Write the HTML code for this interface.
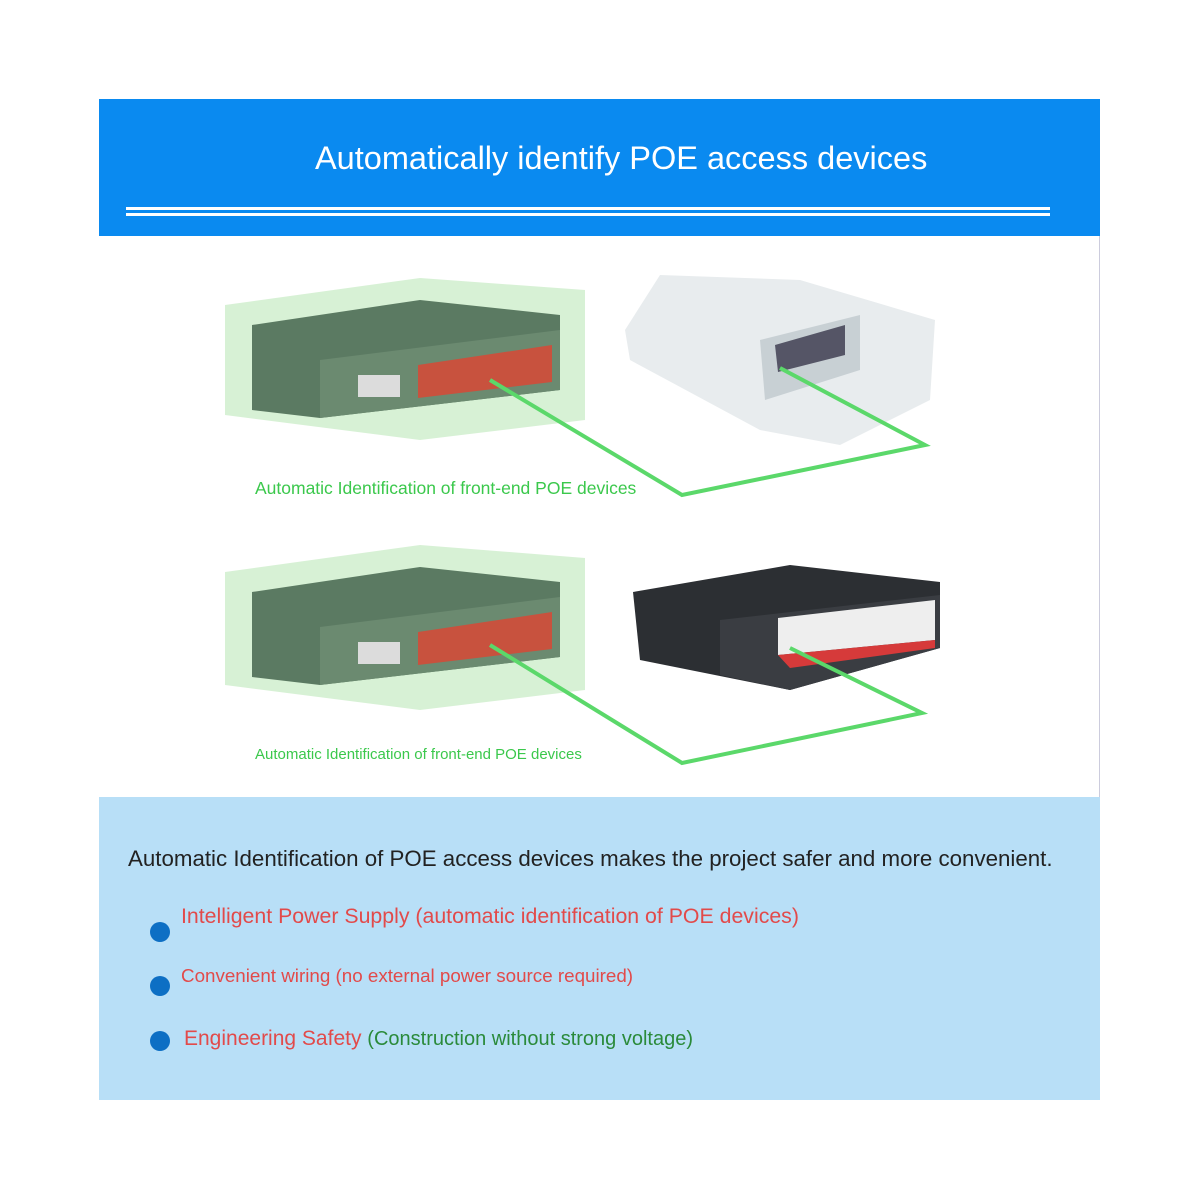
<!DOCTYPE html>
<html><head><style>
body{margin:0;width:1200px;height:1200px;background:#fff;position:relative;overflow:hidden;font-family:"Liberation Sans",sans-serif}
.a{position:absolute;white-space:nowrap}
</style></head><body>
<div class="a" style="left:99px;top:99px;width:1001px;height:137px;background:#0a8af0"></div>
<div class="a" style="left:315px;top:140px;color:#fff;font-size:32.5px">Automatically identify POE access devices</div>
<div class="a" style="left:126px;top:207px;width:924px;height:3px;background:#fff"></div>
<div class="a" style="left:126px;top:213px;width:924px;height:3px;background:#fff"></div>
<div class="a" style="left:1099px;top:236px;width:1px;height:562px;background:#ccd"></div>
<div class="a" style="left:99px;top:797px;width:1001px;height:303px;background:#b8dff7"></div>

<svg class="a" style="left:0;top:0" width="1200" height="1200">
<polygon points="225,305 420,278 585,290 585,420 420,440 225,415" fill="#cdeecb" opacity="0.8"/>
<polygon points="252,325 420,300 560,315 560,390 320,418 252,410" fill="#5b7a62"/>
<polygon points="320,360 560,330 560,390 320,418" fill="#6b8a70"/>
<polygon points="418,365 552,345 552,382 418,398" fill="#c8523e"/>
<rect x="358" y="375" width="42" height="22" fill="#dcdcdc"/>
<polygon points="625,330 660,275 800,280 935,320 930,400 840,445 760,430 630,360" fill="#e8ecee"/>
<polygon points="760,340 860,315 860,370 765,400" fill="#c8d0d4"/>
<polygon points="775,345 845,325 845,355 778,372" fill="#556"/>
<polyline points="490,380 682,495 925,445 780,368" fill="none" stroke="#5bd86a" stroke-width="4"/>
<polygon points="225,572 420,545 585,558 585,690 420,710 225,685" fill="#cdeecb" opacity="0.8"/>
<polygon points="252,592 420,567 560,582 560,657 320,685 252,677" fill="#5b7a62"/>
<polygon points="320,627 560,597 560,657 320,685" fill="#6b8a70"/>
<polygon points="418,632 552,612 552,649 418,665" fill="#c8523e"/>
<rect x="358" y="642" width="42" height="22" fill="#dcdcdc"/>
<polygon points="633,592 790,565 940,582 940,648 790,690 640,660" fill="#2c2f33"/>
<polygon points="720,620 940,595 940,648 790,690 720,675" fill="#3a3d42"/>
<polygon points="778,618 935,600 935,640 778,655" fill="#eee"/>
<polygon points="778,655 935,640 935,648 790,668" fill="#d63a3a"/>
<polyline points="490,645 682,763 922,713 790,648" fill="none" stroke="#5bd86a" stroke-width="4"/>
<circle cx="160" cy="932" r="10" fill="#0d6fc4"/>
<circle cx="160" cy="986" r="10" fill="#0d6fc4"/>
<circle cx="160" cy="1041" r="10" fill="#0d6fc4"/>
</svg>
<div class="a" style="left:255px;top:478px;color:#3bc84c;font-size:17.5px">Automatic Identification of front-end POE devices</div>
<div class="a" style="left:255px;top:746px;color:#3bc84c;font-size:15px">Automatic Identification of front-end POE devices</div>
<div class="a" style="left:128px;top:846px;color:#222;font-size:22.3px">Automatic Identification of POE access devices makes the project safer and more convenient.</div>
<div class="a" style="left:181px;top:904px;color:#e24a4a;font-size:21.3px">Intelligent Power Supply (automatic identification of POE devices)</div>
<div class="a" style="left:181px;top:965px;color:#e24a4a;font-size:18.8px">Convenient wiring (no external power source required)</div>
<div class="a" style="left:184px;top:1027px;color:#e24a4a;font-size:21px">Engineering Safety <span style="color:#2a8a3a;font-size:20px">(Construction without strong voltage)</span></div>
</body></html>
